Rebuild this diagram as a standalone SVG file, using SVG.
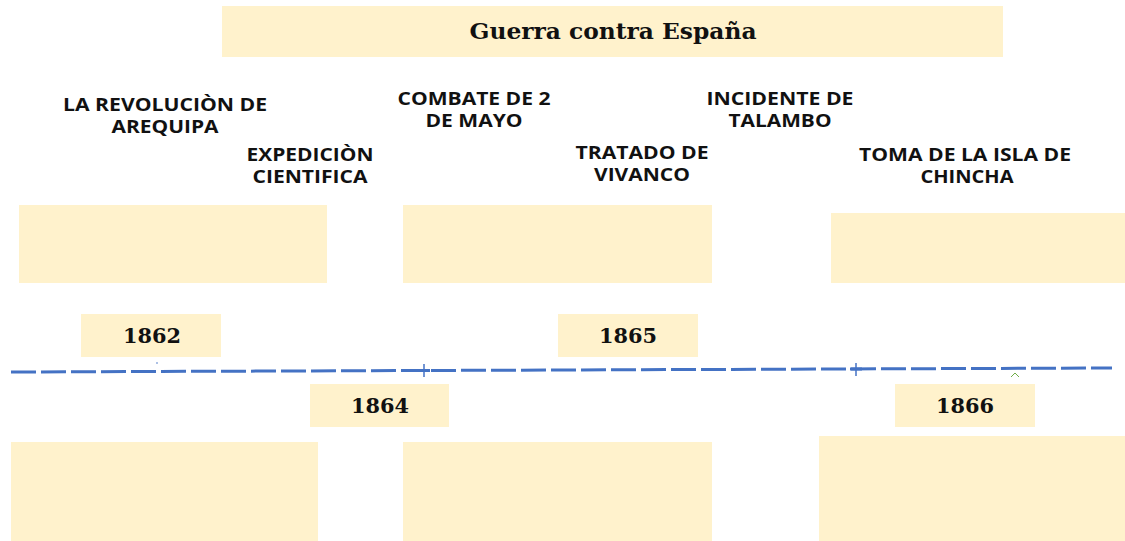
<svg xmlns="http://www.w3.org/2000/svg" width="1125" height="541" viewBox="0 0 1125 541">
<style>
.box{fill:#FFF2CC}
.lbl{font-family:"Open Sans","Liberation Sans",sans-serif;font-weight:bold;font-size:17px;fill:#111;text-anchor:middle}
.yr{font-family:"DejaVu Serif","Liberation Serif",serif;font-weight:bold;font-size:20px;fill:#111;text-anchor:middle}
.ttl{font-family:"DejaVu Serif","Liberation Serif",serif;font-weight:bold;font-size:22px;fill:#111;text-anchor:middle}
</style>
<rect width="1125" height="541" fill="#fff"/>
<g id="title"><rect class="box" x="222" y="6" width="781" height="51"/><text class="ttl" x="613" y="39" textLength="287" lengthAdjust="spacingAndGlyphs">Guerra contra España</text></g>
<g id="lbl-revolucion"><text class="lbl" x="165" y="111" textLength="204" lengthAdjust="spacingAndGlyphs">LA REVOLUCIÒN DE</text><text class="lbl" x="165" y="133" textLength="107" lengthAdjust="spacingAndGlyphs">AREQUIPA</text></g>
<g id="lbl-expedicion"><text class="lbl" x="310" y="161" textLength="127" lengthAdjust="spacingAndGlyphs">EXPEDICIÒN</text><text class="lbl" x="310" y="183" textLength="115" lengthAdjust="spacingAndGlyphs">CIENTIFICA</text></g>
<g id="lbl-combate"><text class="lbl" x="474" y="105" textLength="153" lengthAdjust="spacingAndGlyphs">COMBATE DE 2</text><text class="lbl" x="474" y="127" textLength="97" lengthAdjust="spacingAndGlyphs">DE MAYO</text></g>
<g id="lbl-incidente"><text class="lbl" x="780" y="105" textLength="147" lengthAdjust="spacingAndGlyphs">INCIDENTE DE</text><text class="lbl" x="780" y="127" textLength="103" lengthAdjust="spacingAndGlyphs">TALAMBO</text></g>
<g id="lbl-tratado"><text class="lbl" x="642" y="159" textLength="133" lengthAdjust="spacingAndGlyphs">TRATADO DE</text><text class="lbl" x="642" y="181" textLength="96" lengthAdjust="spacingAndGlyphs">VIVANCO</text></g>
<g id="lbl-toma"><text class="lbl" x="965" y="161" textLength="212" lengthAdjust="spacingAndGlyphs">TOMA DE LA ISLA DE</text><text class="lbl" x="967" y="183" textLength="93" lengthAdjust="spacingAndGlyphs">CHINCHA</text></g>
<g id="box-top-left"><rect class="box" x="19" y="205" width="308" height="78"/></g>
<g id="box-top-mid"><rect class="box" x="403" y="205" width="309" height="78"/></g>
<g id="box-top-right"><rect class="box" x="831" y="213" width="294" height="70"/></g>
<g id="box-bot-left"><rect class="box" x="11" y="442" width="307" height="99"/></g>
<g id="box-bot-mid"><rect class="box" x="403" y="442" width="309" height="99"/></g>
<g id="box-bot-right"><rect class="box" x="819" y="436" width="306" height="105"/></g>
<g id="y1862"><rect class="box" x="81" y="314" width="140" height="43"/><text class="yr" x="152" y="343" textLength="58" lengthAdjust="spacingAndGlyphs">1862</text></g>
<g id="y1864"><rect class="box" x="310" y="384" width="139" height="43"/><text class="yr" x="380" y="413" textLength="58" lengthAdjust="spacingAndGlyphs">1864</text></g>
<g id="y1865"><rect class="box" x="558" y="314" width="140" height="43"/><text class="yr" x="628" y="343" textLength="58" lengthAdjust="spacingAndGlyphs">1865</text></g>
<g id="y1866"><rect class="box" x="895" y="384" width="140" height="43"/><text class="yr" x="965" y="413" textLength="58" lengthAdjust="spacingAndGlyphs">1866</text></g>
<g id="connectors">
<line x1="11" y1="372" x2="1112" y2="368" stroke="#4472C4" stroke-width="3" stroke-dasharray="25 5"/>
<line x1="424" y1="364" x2="424" y2="377" stroke="#4472C4" stroke-width="1.5"/>
<line x1="856" y1="363" x2="856" y2="376" stroke="#4472C4" stroke-width="1.5"/>
<line x1="418" y1="370.5" x2="430" y2="370.5" stroke="#4472C4" stroke-width="3"/>
<line x1="850" y1="369" x2="862" y2="369" stroke="#4472C4" stroke-width="3"/>
<circle cx="157" cy="363" r="0.8" fill="#4472C4"/>
<path d="M1011 377 L1015 373 L1019 377" fill="none" stroke="#70AD47" stroke-width="1"/>
</g>
</svg>
